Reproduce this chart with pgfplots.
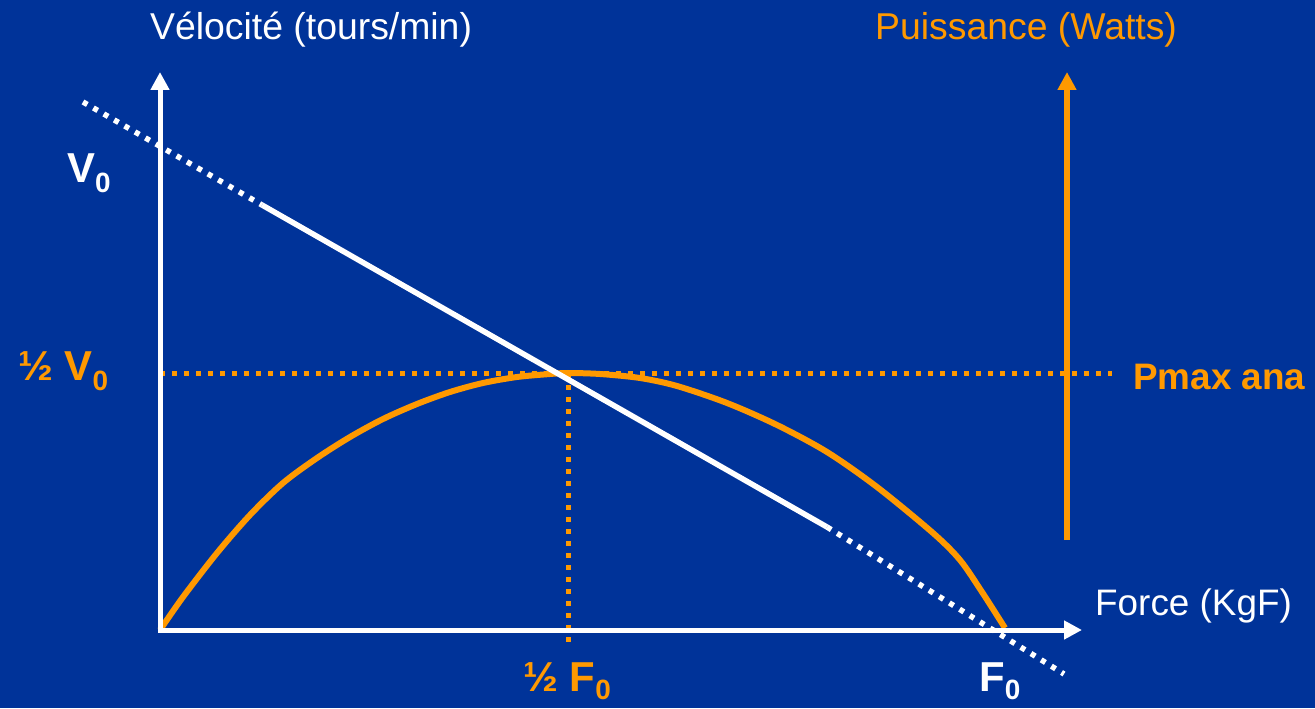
\documentclass[border=0pt]{standalone}
\usepackage{pgfplots}
\pgfplotsset{compat=1.18}
\usetikzlibrary{arrows.meta}
\usepackage{fontspec}
\setmainfont{Liberation Sans}
\definecolor{bgblue}{RGB}{0,51,153}
\definecolor{orng}{RGB}{255,153,0}
\newcommand{\biglab}{\bfseries\fontsize{42}{46}\selectfont}
\newcommand{\sublab}[1]{\raisebox{-10bp}{\fontsize{28}{30}\selectfont #1}}
\newcommand{\sublabb}[1]{\raisebox{-8bp}{\fontsize{28}{30}\selectfont #1}}
\begin{document}
\begin{tikzpicture}
\begin{axis}[
  width=1315bp, height=708bp, scale only axis,
  xmin=0, xmax=1315, ymin=0, ymax=708,
  hide axis, clip=false,
]
\path[fill=bgblue] (rel axis cs:0,0) rectangle (rel axis cs:1,1);
% power curve
\addplot[orng, line width=6bp, smooth, tension=0.5, line cap=butt] coordinates {
(160,78) (183,111) (217,155) (250,193) (283,225) (317,250) (350,271)
(383,289) (417,304) (450,316) (483,325) (517,331) (550,334) (568,335)
(600,334) (640,330) (677,322) (727,305) (777,283) (827,256) (877,221)
(933,175) (960,148) (982,116) (1005,80)};
% orange dotted guides
\addplot[orng, line width=5bp, dash pattern=on 5bp off 7bp] coordinates {(160,335) (1112,335)};
\addplot[orng, line width=5bp, dash pattern=on 5bp off 7bp] coordinates {(568,335) (568,63)};
% axes
\addplot[white, line width=5bp, -{Triangle[length=18bp,width=18bp]}] coordinates {(160,78) (160,636)};
\addplot[white, line width=5bp, -{Triangle[length=18bp,width=18bp]}] coordinates {(158,78) (1082,78)};
% power axis arrow
\addplot[orng, line width=6bp, -{Triangle[length=18bp,width=18bp]}] coordinates {(1067,168) (1067,636)};
% force-velocity line
\addplot[white, line width=5.5bp, dash pattern=on 5bp off 7bp] coordinates {(83,606) (262,503)};
\addplot[white, line width=5.5bp] coordinates {(262,503) (827,181)};
\addplot[white, line width=5.5bp, dash pattern=on 5bp off 7bp] coordinates {(827,181) (1064,34)};
% labels
\node[anchor=base west, inner sep=0, white, font=\fontsize{37.5}{40}\selectfont] at (axis cs:150,668) {Vélocité (tours/min)};
\node[anchor=base west, inner sep=0, orng, font=\fontsize{37.5}{40}\selectfont] at (axis cs:875,668) {Puissance (Watts)};
\node[anchor=base west, inner sep=0, white, font=\fontsize{37}{40}\selectfont] at (axis cs:1095,93) {Force (KgF)};
\node[anchor=base west, inner sep=0, white] at (axis cs:67,525) {\biglab V\sublab{0}};
\node[anchor=base west, inner sep=0, orng] at (axis cs:18,328) {\biglab ½ V\sublab{0}};
\node[anchor=base west, inner sep=0, orng, font=\bfseries\fontsize{37}{40}\selectfont] at (axis cs:1133,319) {Pmax ana};
\node[anchor=base west, inner sep=0, orng] at (axis cs:523,17) {\biglab ½ F\sublabb{0}};
\node[anchor=base west, inner sep=0, white] at (axis cs:979,17) {\biglab F\sublabb{0}};
\end{axis}
\end{tikzpicture}
\end{document}
